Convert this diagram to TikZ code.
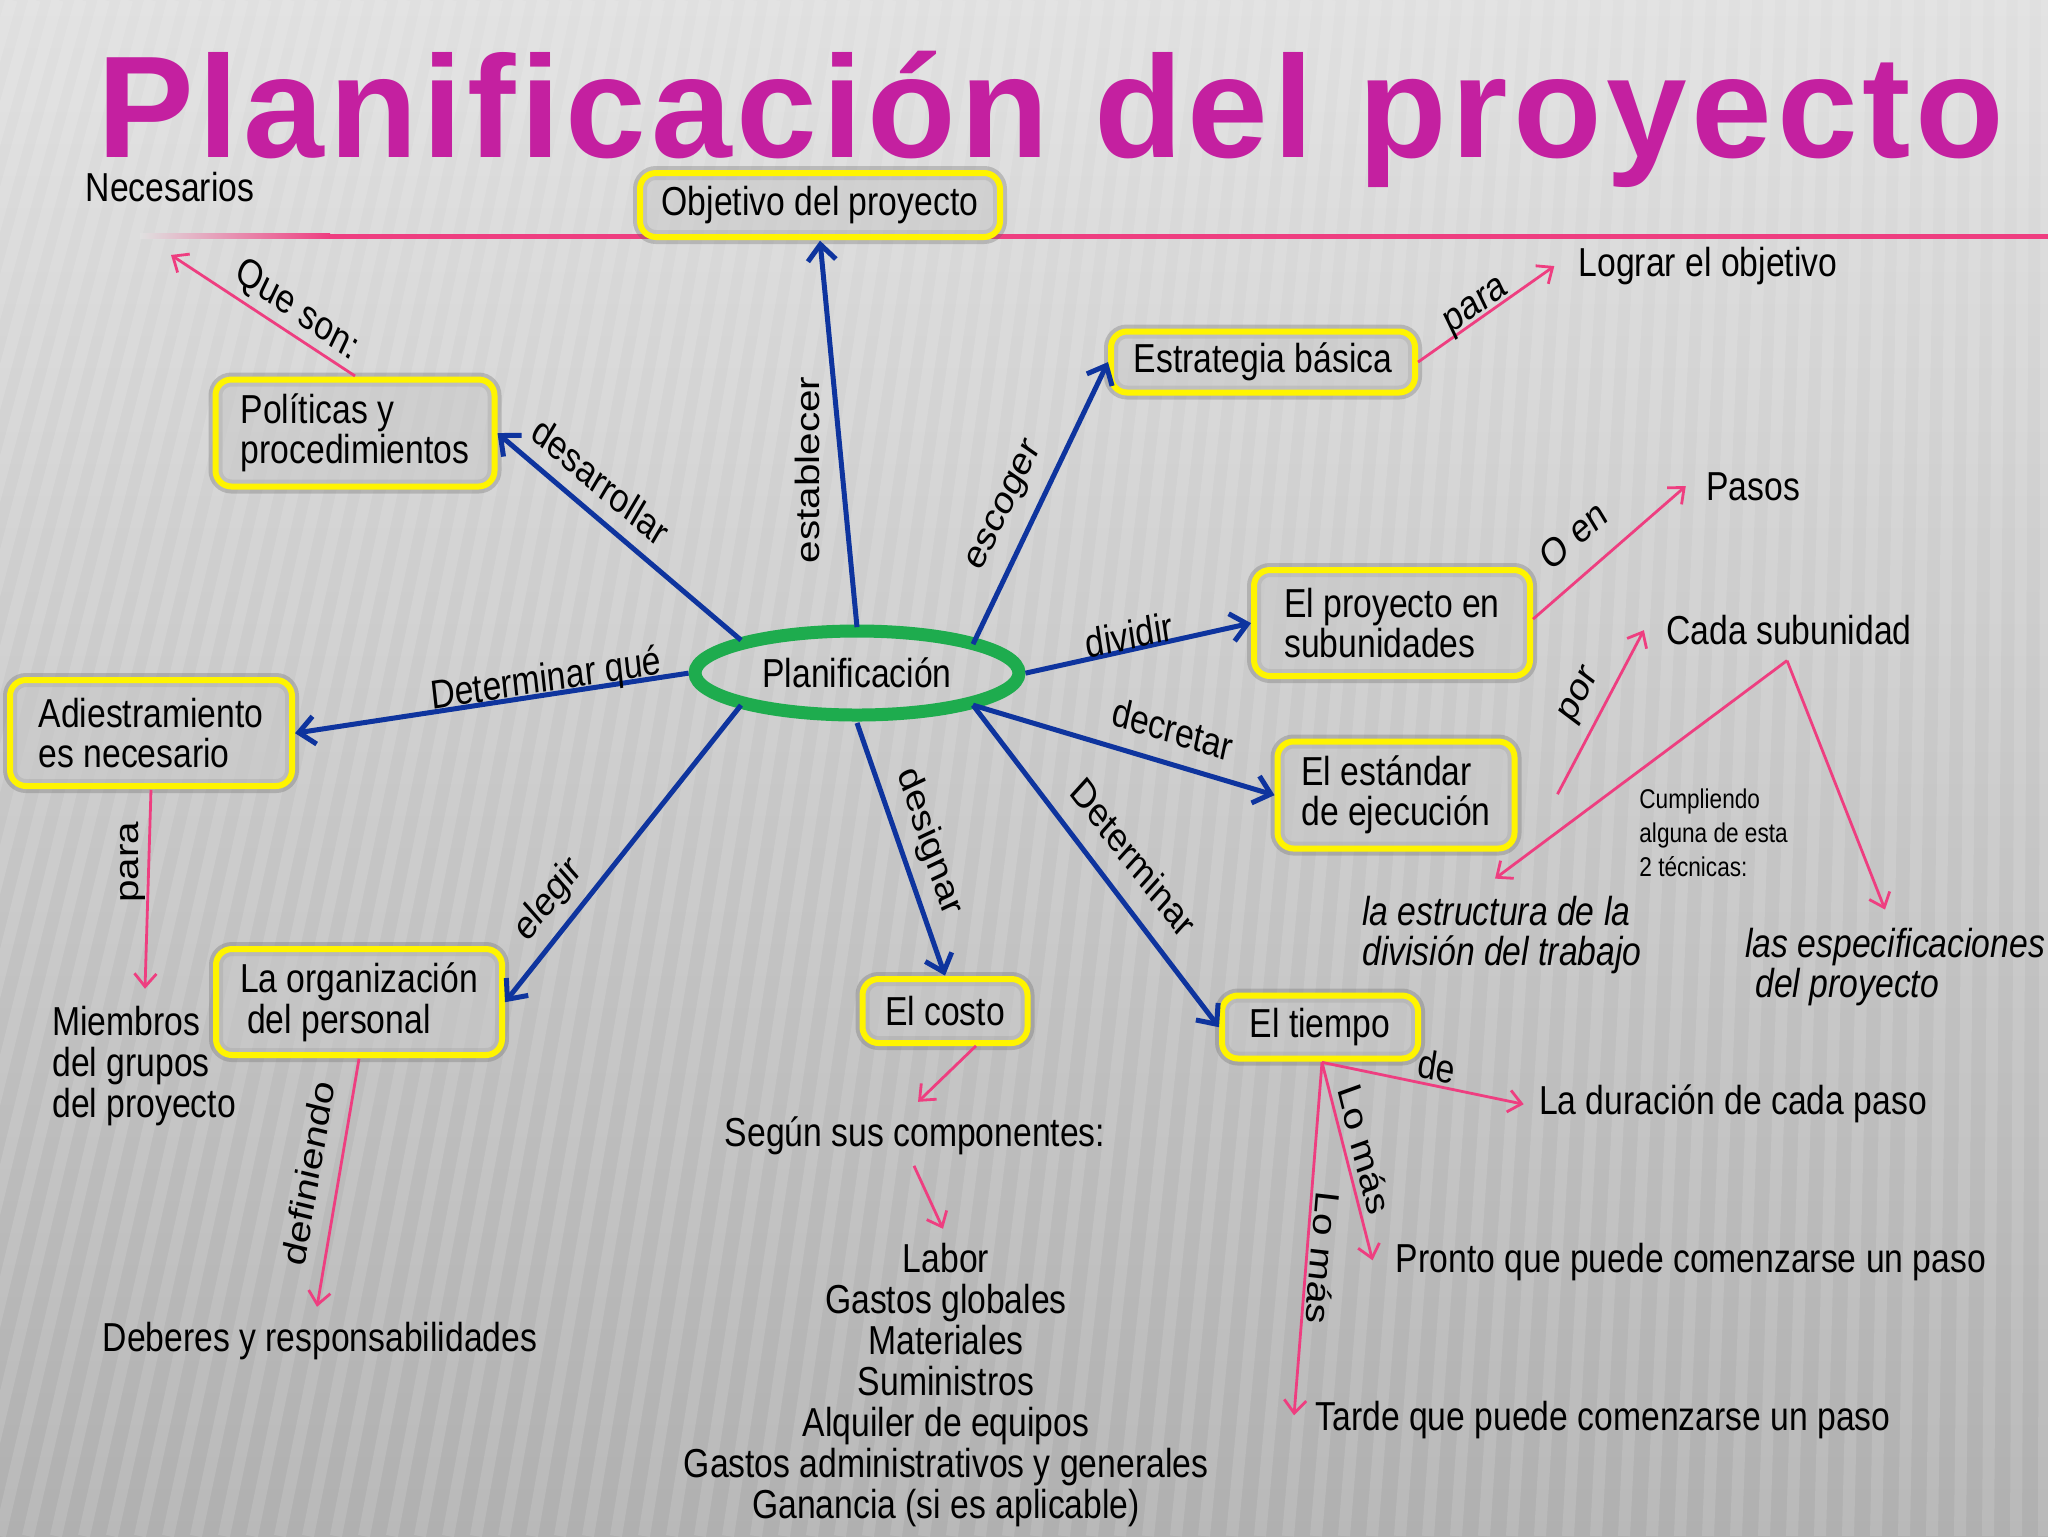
\documentclass[tikz,border=0pt]{standalone}
\usepackage{fontspec}
\setmainfont{Liberation Sans}
\newfontfamily\titlefont{Liberation Sans Bold}[LetterSpace=3.3]
\usetikzlibrary{shapes.geometric,arrows.meta,calc}
\definecolor{blu}{RGB}{14,52,158}
\definecolor{pnk}{RGB}{238,62,128}
\definecolor{grn}{RGB}{30,172,78}
\definecolor{yel}{RGB}{255,244,0}
\definecolor{mag}{RGB}{196,32,160}
\definecolor{bgtop}{RGB}{224,224,224}
\definecolor{bgmid}{RGB}{208,208,208}
\definecolor{bgbot}{RGB}{176,176,176}
\definecolor{boxfill}{RGB}{200,200,200}
\newcommand\mainsz{\fontsize{16.85}{16.9}\selectfont}
\newcommand\smallsz{\fontsize{11.3}{14.2}\selectfont}
\tikzset{
  box/.style={draw=yel, line width=3pt, rounded corners=8pt, fill=boxfill, fill opacity=.55, text opacity=1,
    align=left, inner sep=0pt,
    preaction={draw=black!60, line width=7pt, draw opacity=.3, fill opacity=0}},
  bsize/.style 2 args={minimum width={(#1-6)*0.5pt}, minimum height={(#2-6)*0.5pt/1.2}},
  bluarr/.style={draw=blu, line width=2.5pt, -{Straight Barb[length=8pt,width=14pt]}},
  pnkarr/.style={draw=pnk, line width=1.4pt, -{Straight Barb[length=6.5pt,width=11pt]}},
  lbl/.style={inner sep=0pt},
  txt/.style={inner sep=0pt, align=left},
}
\begin{document}
\begin{tikzpicture}[x=0.5pt, y=-0.416667pt, yscale=1.2, transform shape, font=\mainsz]
\useasboundingbox (0,0) rectangle (2048,1536);
% background
\shade[top color=bgtop, middle color=bgmid, bottom color=bgbot] (0,0) rectangle (2048,1536);
\begin{scope}
\clip (0,0) rectangle (2048,1536);
\foreach \b in {-700,-672,...,2060} {
  \pgfmathsetmacro\t{\b+480*(1-(\b+700)/2760)}
  \draw[white, opacity=0.12, line width=6pt] (\b,1536) -- (\t,0);
}
\end{scope}
% title
\node[anchor=base west, inner sep=0pt, font={\titlefont\fontsize{72.5}{80}\selectfont}, text=mag] (title) at (97,157)
  {\scalebox{1}[0.8333]{Planificación del proyecto}};
% pink rule
\shade[left color=bgtop, right color=pnk] (140,233.5) rectangle (330,238.5);
\fill[pnk] (329,233.5) rectangle (2048,238.5);

% central ellipse
\node[ellipse, draw=grn, line width=6.5pt, minimum width=162pt, minimum height=35pt, inner sep=0pt] (plan) at (857,673) {Planificación};

% boxes
\node[box, bsize={366}{70}] (obj) at (820,205) {Objetivo del proyecto};
\node[box, bsize={285}{113}] (pol) at (355,433) {Políticas y\\procedimientos};
\node[box, bsize={310}{67}] (est) at (1263,362) {Estrategia básica};
\node[box, bsize={282}{112}] (sub) at (1392,623) {El proyecto en\\subunidades};
\node[box, bsize={288}{112}] (adi) at (151,733) {Adiestramiento\\es necesario};
\node[box, bsize={243}{113}] (std) at (1396,795) {El estándar\\de ejecución};
\node[box, bsize={292}{112}] (org) at (359,1002) {La organización\\\hspace{3.5pt}del personal};
\node[box, bsize={171}{70}] (cos) at (945,1011) {El costo};
\node[box, bsize={202}{69}] (tie) at (1320,1027) {El tiempo};

% free texts
\node[txt] (nec) at (170,187) {Necesarios};
\node[txt] (logr) at (1708,266) {Lograr el objetivo};
\node[txt] (pas) at (1753,487) {Pasos};
\node[txt] (cada) at (1789,630) {Cada subunidad};
\node[txt, font=\smallsz, anchor=west] (cump) at (1639,833) {Cumpliendo\\alguna de esta\\2 técnicas:};
\node[txt, font=\mainsz\itshape, anchor=west] (estr) at (1362,935) {la estructura de la\\división del trabajo};
\node[txt, font=\mainsz\itshape, anchor=west] (espe) at (1745,967) {las especificaciones\\\hspace{5pt}del proyecto};
\node[txt, anchor=west] (miem) at (52,1066) {Miembros\\del grupos\\del proyecto};
\node[txt] (deb) at (320,1341) {Deberes y responsabilidades};
\node[txt] (seg) at (915,1136) {Según sus componentes:};
\node[txt, align=center, font=\fontsize{16.85}{17.1}\selectfont] (list) at (946,1385) {Labor\\Gastos globales\\Materiales\\Suministros\\Alquiler de equipos\\Gastos administrativos y generales\\Ganancia (si es aplicable)};
\node[txt] (dur) at (1733,1104) {La duración de cada paso};
\node[txt] (pron) at (1691,1262) {Pronto que puede comenzarse un paso};
\node[txt] (tard) at (1603,1420) {Tarde que puede comenzarse un paso};

% blue connectors
\draw[bluarr] ($(plan)+(0,-46)$) -- (obj.south);
\draw[bluarr] ($(plan)+(-116,-33)$) -- (pol.east);
\draw[bluarr] ($(plan)+(116,-29)$) -- (est.west);
\draw[bluarr] (plan.west) -- (adi.east);
\draw[bluarr] (plan.east) -- (sub.west);
\draw[bluarr] ($(plan)+(116,32)$) -- (std.west);
\draw[bluarr] ($(plan)+(116,32)$) -- (tie.west);
\draw[bluarr] (plan.south) -- (cos.north);
\draw[bluarr] ($(plan)+(-116,32)$) -- (org.east);

% blue labels
\node[lbl, rotate=90] (l1) at (807,470) {establecer};
\node[lbl, rotate=-35.4] (l2) at (601,481) {desarrollar};
\node[lbl, rotate=60] (l3) at (1006,507) {escoger};
\node[lbl, rotate=7.5] (l4) at (546,681) {Determinar qué};
\node[lbl, rotate=10.3] (l5) at (1129,635) {dividir};
\node[lbl, rotate=-14.5] (l6) at (1173,729) {decretar};
\node[lbl, rotate=-47.4] (l7) at (1134,857) {Determinar};
\node[lbl, rotate=-68.6] (l8) at (929,842) {designar};
\node[lbl, rotate=46.6] (l9) at (549,900) {elegir};

% pink connectors
\coordinate (apex) at ($(cada.south)+(-2,15)$);
\draw[pnkarr] (pol.north) -- ($(pol.north)+(-184,-121)$);
\draw[pnkarr] (est.east) -- ($(logr.west)+(-24,0)$);
\draw[pnkarr] ($(sub.east)+(0,-4)$) -- ($(pas.west)+(-20,-1)$);
\draw[pnkarr] ($(std.east)+(40,-1)$) -- ($(cada.west)+(-22,0)$);
\draw[pnkarr] (apex) -- ($(estr.north west)+(133,-17)$);
\draw[pnkarr] (apex) -- ($(espe.north west)+(140,-18)$);
\draw[pnkarr] (adi.south) -- ($(adi.south)+(-6,199)$);
\draw[pnkarr] (org.south) -- ($(org.south)+(-42,248)$);
\draw[pnkarr] ($(cos.south)+(31,-1)$) -- ($(cos.south)+(-27,55)$);
\draw[pnkarr] ($(seg.south)+(-1,10)$) -- ($(seg.south)+(28,73)$);
\draw[pnkarr] ($(tie.south)+(2,0)$) -- ($(dur.west)+(-15,0)$);
\draw[pnkarr] ($(tie.south)+(2,0)$) -- ($(pron.west)+(-23,-2)$);
\draw[pnkarr] ($(tie.south)+(2,0)$) -- ($(tard.west)+(-21,-5)$);

% pink labels
\node[lbl, rotate=-30] (q1) at (297,311) {Que son:};
\node[lbl, rotate=30] (q2) at (1477,308) {para};
\node[lbl, rotate=36] (q3) at (1573,535) {O en};
\node[lbl, rotate=58] (q4) at (1581,696) {por};
\node[lbl, rotate=90] (q5) at (133,862) {para};
\node[lbl, rotate=78.5] (q6) at (308,1173) {definiendo};
\node[lbl, rotate=-10.5] (q7) at (1437,1066) {de};
\node[lbl, rotate=-73.4] (q8) at (1365,1149) {Lo más};
\node[lbl, rotate=-95.6] (q9) at (1323,1258) {Lo más};
\end{tikzpicture}
\end{document}
